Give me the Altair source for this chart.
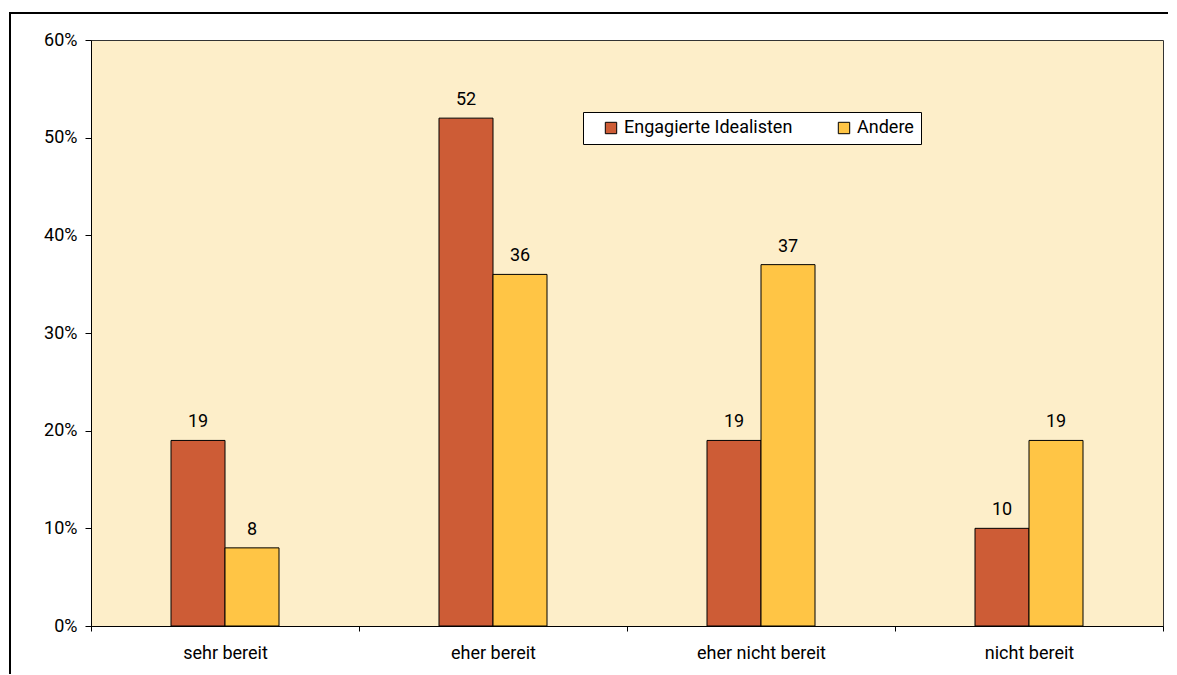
import altair as alt
import pandas as pd

categories = ["sehr bereit", "eher bereit", "eher nicht bereit", "nicht bereit"]
series = ["Engagierte Idealisten", "Andere"]
idealisten = [19, 52, 19, 10]
andere = [8, 36, 37, 19]
colors = ["#CD5C36", "#FFC545"]
y_ticks = [0, 10, 20, 30, 40, 50, 60]

rows = []
for c, a, b in zip(categories, idealisten, andere):
    rows.append({"cat": c, "series": series[0], "value": a})
    rows.append({"cat": c, "series": series[1], "value": b})
df = pd.DataFrame(rows)

FONT = "Roboto"
FS = 18
FW = "normal"

x_enc = alt.X("cat:N", sort=categories,
              scale=alt.Scale(paddingInner=0, paddingOuter=0),
              axis=alt.Axis(title=None, labelAngle=0, tickBand="extent", tickSize=5,
                            domainColor="black", tickColor="black", labelPadding=13,
                            labelFontSize=FS, labelFontWeight=FW, labelColor="black",
                            labelFont=FONT))
xo_enc = alt.XOffset("series:N", sort=series,
                     scale=alt.Scale(range=[80, 188], paddingInner=0, paddingOuter=0))
y_enc = alt.Y("value:Q", scale=alt.Scale(domain=[0, 60], nice=False),
              axis=alt.Axis(title=None, values=y_ticks, grid=False, tickSize=6,
                            domainColor="black", tickColor="black", labelPadding=8,
                            labelExpr="datum.value + '%'", labelFontSize=FS,
                            labelFontWeight=FW, labelColor="black", labelFont=FONT))

base = alt.Chart(df)
bars = base.mark_bar(stroke="black", strokeWidth=1).encode(
    x=x_enc, xOffset=xo_enc, y=y_enc,
    color=alt.Color("series:N", sort=series,
                    scale=alt.Scale(domain=series, range=colors),
                    legend=alt.Legend(title=None, orient="none", legendX=492, legendY=72,
                                      direction="horizontal", fillColor="white",
                                      strokeColor="black", padding=7,
                                      symbolType="square", symbolSize=130,
                                      symbolStrokeColor="black", symbolStrokeWidth=1,
                                      symbolOffset=12,
                                      labelFontSize=FS, labelFontWeight=FW, labelFont=FONT,
                                      labelColor="black", columnPadding=30, labelLimit=300)))
labels = base.mark_text(baseline="bottom", dy=-9, fontSize=FS, fontWeight=FW, font=FONT,
                        color="black").encode(
    x=x_enc, xOffset=xo_enc, y=y_enc, text="value:Q")

frame_df = pd.DataFrame({"a": [0]})
top_line = alt.Chart(frame_df).mark_rule(color="black", strokeWidth=2).encode(
    x=alt.value(-81), x2=alt.value(1090), y=alt.value(-27))
left_line = alt.Chart(frame_df).mark_rule(color="black", strokeWidth=2).encode(
    x=alt.value(-81), y=alt.value(-28), y2=alt.value(640))

chart = alt.layer(bars, labels, top_line, left_line).properties(
    width=1072, height=586,
    padding={"left": 83, "top": 32, "right": 5, "bottom": 48},
    autosize=alt.AutoSizeParams(type="none"),
    view=alt.ViewBackground(fill="#FDEEC9", stroke="#333333", strokeWidth=1),
).configure_view(
    fill="#FDEEC9", stroke="#333333", strokeWidth=1
).configure(background="white")

chart.save("out.html", embed_options={"renderer": "svg", "actions": False})
